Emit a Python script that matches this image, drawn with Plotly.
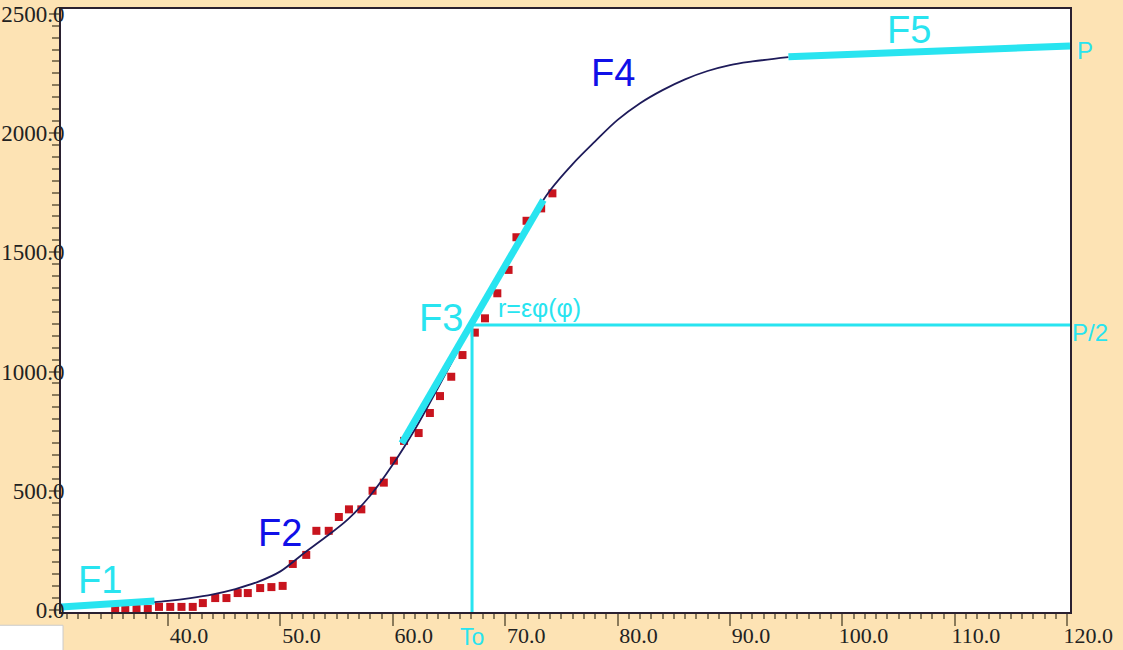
import plotly.graph_objects as go

# ---------------- data ----------------
obs_x = [35.3, 36.2, 37.2, 38.2, 39.2, 40.2, 41.2, 42.2, 43.1, 44.2,
         45.2, 46.2, 47.1, 48.2, 49.2, 50.2, 51.1, 52.3, 53.2, 54.3,
         55.2, 56.1, 57.2, 58.2, 59.2, 60.1, 61.0, 62.3, 63.3, 64.2,
         65.2, 66.2, 67.3, 68.2, 69.3, 70.3, 71.0, 71.9, 73.2, 74.2]
obs_y = [3, 3, 4, 4, 13, 13, 13, 13, 29, 50,
         50, 71, 71, 92, 96, 101, 193, 231, 332, 332,
         390, 422, 422, 500, 534, 626, 709, 742, 826, 897,
         978, 1069, 1163, 1223, 1328, 1426, 1563, 1632, 1684, 1747]

fit_x = [38.6, 40, 42, 44, 46, 48, 50, 52, 54, 56, 58, 60, 62, 64, 66, 68,
         70, 72, 74, 76, 78, 80, 82, 84, 86, 88, 90, 92, 95.2]
fit_y = [32, 38, 50, 66, 88, 118, 162, 235, 305, 380, 480, 610, 760, 930,
         1105, 1280, 1455, 1615, 1760, 1870, 1965, 2055, 2125, 2180, 2225,
         2260, 2285, 2300, 2318]

f1_x = [30.48, 38.8]
f1_y = [13, 38]
f3_x = [60.8, 73.4]
f3_y = [699, 1719]
f5_x = [95.2, 120.25]
f5_y = [2320, 2365]
to_x = [67.05, 67.05]
to_y = [-8.4, 1195]
half_x = [67.05, 120.25]
half_y = [1195, 1195]

x_tickvals = [40, 50, 60, 70, 80, 90, 100, 110, 120]
x_ticktext = ["40.0", "50.0", "60.0", "70.0", "80.0", "90.0", "100.0", "110.0", "120.0"]
y_tickvals = [0, 500, 1000, 1500, 2000, 2500]
y_ticktext = ["0.0", "500.0", "1000.0", "1500.0", "2000.0", "2500.0"]

# ---------------- styling ----------------
CYAN = "#28E4F0"
BLUE = "#1010E8"
RED = "#C8141E"
NAVY = "#1E1B5A"
BG = "#FDE3B4"
TICKC = "#8a7a5a"
LBL = "Liberation Serif"

fig = go.Figure()
fig.add_trace(go.Scatter(x=obs_x, y=obs_y, mode="markers",
                         marker=dict(symbol="square", size=8, color=RED, line=dict(width=0)),
                         hoverinfo="skip"))
fig.add_trace(go.Scatter(x=fit_x, y=fit_y, mode="lines",
                         line=dict(color=NAVY, width=1.8, shape="spline"),
                         hoverinfo="skip"))
for xs, ys, w in [(f1_x, f1_y, 7), (f3_x, f3_y, 7), (f5_x, f5_y, 7),
                  (to_x, to_y, 3), (half_x, half_y, 3)]:
    fig.add_trace(go.Scatter(x=xs, y=ys, mode="lines",
                             line=dict(color=CYAN, width=w), hoverinfo="skip"))

def ann(text, x, y, color, size, xanchor="center", ref="data"):
    xr, yr = ("x", "y") if ref == "data" else ("paper", "paper")
    fig.add_annotation(text=text, x=x, y=y, xref=xr, yref=yr, showarrow=False,
                       xanchor=xanchor, yanchor="middle",
                       font=dict(family="Liberation Sans", size=size, color=color))

ann("F1", 33.95, 126, CYAN, 38)
ann("F2", 49.96, 323, BLUE, 38)
ann("F3", 64.29, 1224, CYAN, 38)
ann("F4", 79.59, 2252, BLUE, 38)
ann("F5", 105.9, 2432, CYAN, 38)
ann("r=εφ(φ)", 69.2, 1266, CYAN, 25, "left")
ann("P", 1.005, 0.932, CYAN, 24, "left", "paper")
ann("P/2", 1.0, 0.4627, CYAN, 24, "left", "paper")
ann("To", 0.4073, -0.0415, CYAN, 23, "center", "paper")

fig.add_shape(type="rect", xref="paper", yref="paper",
              x0=-0.07, x1=0.002, y0=-0.09, y1=-0.022,
              fillcolor="white", line=dict(color="#cccccc", width=1), layer="above")

fig.update_layout(
    width=1123, height=650,
    margin=dict(l=61, r=53, t=9, b=38, autoexpand=False),
    paper_bgcolor=BG, plot_bgcolor="white",
    showlegend=False,
    xaxis=dict(range=[30.48, 120.25], showgrid=False, zeroline=False, automargin=False,
               showline=True, linecolor="#2a2030", linewidth=2, mirror=True,
               tickmode="array", tickvals=x_tickvals, ticktext=x_ticktext,
               ticks="outside", ticklen=12, tickwidth=2, tickcolor=TICKC,
               ticklabelshift=21, ticklabelstandoff=-9,
               tickfont=dict(family=LBL, size=22, color="#222222"),
               minor=dict(tickmode="linear", tick0=0, dtick=1, ticks="outside",
                          ticklen=5, tickwidth=2, tickcolor=TICKC, showgrid=False)),
    yaxis=dict(range=[-8.4, 2520], showgrid=False, zeroline=False, automargin=False,
               showline=True, linecolor="#2a2030", linewidth=2, mirror=True,
               tickmode="array", tickvals=y_tickvals, ticktext=y_ticktext,
               ticks="outside", ticklen=10, tickwidth=2, tickcolor=TICKC,
               ticklabelstandoff=-20,
               tickfont=dict(family=LBL, size=23, color="#222222"),
               minor=dict(tickmode="linear", tick0=0, dtick=50, ticks="outside",
                          ticklen=7, tickwidth=2, tickcolor=TICKC, showgrid=False)),
)

fig.write_html("out.html")
